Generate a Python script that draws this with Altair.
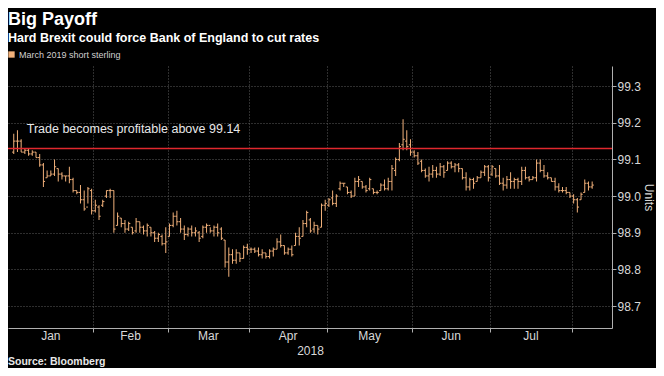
import altair as alt
import numpy as np
import pandas as pd

# ---------------- texts ----------------
title = "Big Payoff"
subtitle = "Hard Brexit could force Bank of England to cut rates"
series_name = "March 2019 short sterling"
source = "Source: Bloomberg"
y_title = "Units"
year_label = "2018"
note = "Trade becomes profitable above 99.14"

# ---------------- categories / ticks ----------------
months = ["Jan", "Feb", "Mar", "Apr", "May", "Jun", "Jul"]
month_starts = ["2018-01-01", "2018-02-01", "2018-03-01", "2018-04-01",
                "2018-05-01", "2018-06-01", "2018-07-01", "2018-08-01"]
y_ticks = [98.7, 98.8, 98.9, 99.0, 99.1, 99.2, 99.3]

# reference level and its note (x = trading-day index, y = price)
threshold = [99.13]
note_day = [4.5]
note_level = [99.183]

# ---------------- daily OHLC, 2 Jan - 8 Aug 2018 ----------------
first_day = "2018-01-02"
last_day = "2018-08-08"

open_ = [
    99.12, 99.15, 99.15, 99.12, 99.125, 99.115, 99.12, 99.105, 99.085, 99.05, 99.055,
    99.06, 99.075, 99.06, 99.055, 99.055, 99.045, 99.015, 99.01, 98.99, 98.97, 99.015,
    98.96, 98.97, 98.975, 99.0, 99.015, 99.015, 98.92, 98.94, 98.925, 98.91,
    98.915, 98.905, 98.93, 98.915, 98.905, 98.915, 98.9, 98.885, 98.89, 98.87,
    98.89, 98.92, 98.945, 98.93, 98.91, 98.895, 98.91, 98.9, 98.9, 98.89, 98.915,
    98.92, 98.905, 98.915, 98.91, 98.88, 98.82, 98.84, 98.825, 98.845, 98.83, 98.86,
    98.855, 98.855, 98.85, 98.84, 98.845, 98.835, 98.85, 98.855, 98.875, 98.865, 98.845,
    98.855, 98.865, 98.89, 98.89, 98.925, 98.935, 98.91, 98.92, 98.915, 98.975,
    98.975, 98.995, 98.98, 99.02, 99.035, 99.025, 99.01, 99.0, 99.04, 99.04, 99.025, 99.02,
    99.02, 99.01, 99.015, 99.03, 99.02, 99.04, 99.07, 99.1, 99.14, 99.15, 99.14,
    99.12, 99.11, 99.095, 99.07, 99.055, 99.06, 99.07, 99.06, 99.08, 99.07, 99.09,
    99.08, 99.085, 99.075, 99.05, 99.025, 99.045, 99.04, 99.05, 99.065, 99.08,
    99.06, 99.075, 99.055, 99.035, 99.03, 99.045, 99.04, 99.045, 99.04, 99.07, 99.05,
    99.045, 99.05, 99.09, 99.07, 99.055, 99.05, 99.04, 99.025, 99.015, 99.015, 99.01,
    99.0, 98.99, 98.99, 99.01, 99.035, 99.025,
]
high = [
    99.17, 99.18, 99.155, 99.13, 99.13, 99.125, 99.12, 99.115, 99.09, 99.07, 99.07,
    99.1, 99.075, 99.065, 99.055, 99.08, 99.05, 99.015, 99.03, 99.015, 99.025, 99.02,
    98.99, 98.975, 98.99, 99.015, 99.02, 99.015, 98.955, 98.94, 98.935, 98.93,
    98.915, 98.94, 98.93, 98.92, 98.925, 98.915, 98.905, 98.9, 98.895, 98.915,
    98.925, 98.955, 98.96, 98.94, 98.92, 98.915, 98.92, 98.915, 98.905, 98.92, 98.925,
    98.915, 98.92, 98.925, 98.915, 98.88, 98.86, 98.855, 98.855, 98.845, 98.865, 98.87,
    98.86, 98.86, 98.86, 98.855, 98.845, 98.855, 98.86, 98.885, 98.895, 98.865, 98.86,
    98.865, 98.9, 98.915, 98.935, 98.96, 98.94, 98.93, 98.92, 98.98, 98.99,
    98.995, 99.015, 99.005, 99.04, 99.035, 99.025, 99.015, 99.05, 99.055, 99.04, 99.03, 99.05,
    99.02, 99.015, 99.035, 99.045, 99.05, 99.085, 99.105, 99.145, 99.21, 99.18, 99.155,
    99.125, 99.12, 99.1, 99.075, 99.08, 99.085, 99.08, 99.09, 99.085, 99.095, 99.095,
    99.09, 99.09, 99.075, 99.065, 99.05, 99.05, 99.055, 99.07, 99.085, 99.085,
    99.085, 99.075, 99.085, 99.05, 99.055, 99.065, 99.05, 99.05, 99.08, 99.08, 99.055,
    99.055, 99.1, 99.1, 99.085, 99.065, 99.05, 99.05, 99.035, 99.025, 99.025, 99.01,
    99.005, 98.995, 99.01, 99.045, 99.04, 99.04,
]
low = [
    99.115, 99.12, 99.12, 99.115, 99.11, 99.11, 99.105, 99.08, 99.025, 99.05, 99.055,
    99.055, 99.04, 99.045, 99.04, 99.035, 99.01, 99.005, 98.98, 98.96, 98.98, 98.95,
    98.955, 98.935, 98.97, 98.995, 98.995, 98.9, 98.92, 98.915, 98.9, 98.905,
    98.895, 98.9, 98.9, 98.895, 98.89, 98.89, 98.875, 98.875, 98.865, 98.845,
    98.89, 98.915, 98.92, 98.9, 98.88, 98.89, 98.89, 98.89, 98.875, 98.885, 98.9,
    98.9, 98.89, 98.89, 98.88, 98.805, 98.78, 98.815, 98.815, 98.82, 98.83, 98.84,
    98.845, 98.845, 98.835, 98.83, 98.83, 98.83, 98.835, 98.855, 98.86, 98.84, 98.84,
    98.835, 98.865, 98.865, 98.89, 98.915, 98.9, 98.9, 98.895, 98.915, 98.96,
    98.97, 98.975, 98.97, 99.015, 99.025, 99.005, 98.995, 99.0, 99.025, 99.02, 99.01, 99.015,
    99.005, 99.005, 99.015, 99.015, 99.015, 99.015, 99.055, 99.095, 99.125, 99.125, 99.11,
    99.105, 99.085, 99.065, 99.05, 99.04, 99.05, 99.05, 99.055, 99.05, 99.07, 99.075,
    99.065, 99.065, 99.045, 99.015, 99.015, 99.02, 99.04, 99.05, 99.055, 99.04,
    99.055, 99.05, 99.03, 99.015, 99.02, 99.02, 99.02, 99.02, 99.03, 99.045, 99.04,
    99.045, 99.04, 99.065, 99.05, 99.045, 99.04, 99.015, 99.01, 99.01, 99.005, 98.995,
    98.98, 98.955, 98.99, 99.01, 99.015, 99.02,
]
close = [
    99.15, 99.15, 99.12, 99.125, 99.115, 99.12, 99.105, 99.085, 99.04, 99.055, 99.06,
    99.08, 99.06, 99.055, 99.055, 99.045, 99.015, 99.01, 98.99, 98.965, 99.02, 98.96,
    98.975, 98.945, 98.985, 99.015, 99.015, 98.91, 98.945, 98.925, 98.91, 98.925,
    98.9, 98.93, 98.915, 98.905, 98.92, 98.9, 98.885, 98.895, 98.87, 98.875,
    98.92, 98.945, 98.93, 98.91, 98.895, 98.91, 98.9, 98.905, 98.885, 98.915, 98.92,
    98.905, 98.915, 98.9, 98.885, 98.82, 98.84, 98.825, 98.845, 98.83, 98.86, 98.855,
    98.855, 98.85, 98.84, 98.845, 98.835, 98.85, 98.855, 98.875, 98.865, 98.845, 98.855,
    98.84, 98.89, 98.885, 98.925, 98.955, 98.905, 98.92, 98.91, 98.975, 98.98,
    98.99, 98.98, 99.0, 99.035, 99.035, 99.01, 99.0, 99.04, 99.045, 99.025, 99.015, 99.045,
    99.01, 99.01, 99.03, 99.02, 99.04, 99.075, 99.1, 99.135, 99.155, 99.135, 99.12,
    99.11, 99.09, 99.07, 99.055, 99.06, 99.07, 99.06, 99.08, 99.065, 99.09, 99.08,
    99.085, 99.075, 99.05, 99.025, 99.045, 99.035, 99.05, 99.065, 99.08, 99.05,
    99.08, 99.055, 99.035, 99.03, 99.045, 99.04, 99.045, 99.04, 99.07, 99.05, 99.045,
    99.05, 99.09, 99.07, 99.055, 99.05, 99.04, 99.025, 99.015, 99.015, 99.01, 99.0,
    98.99, 98.97, 99.005, 99.035, 99.025, 99.03,
]

# ---------------- build tables ----------------
dates = pd.bdate_range(first_day, last_day)
assert len(dates) == len(open_) == len(high) == len(low) == len(close)
day = np.busday_count("2018-01-01", dates.values.astype("datetime64[D]"))

df = pd.DataFrame({
    "day": day, "date": dates.strftime("%Y-%m-%d"),
    "open": open_, "high": high, "low": low, "close": close,
    "series": series_name,
})

bounds = [float(np.busday_count("2018-01-01", m)) - 0.5 for m in month_starts]
month_df = pd.DataFrame({
    "month": months,
    "mid": [(bounds[i] + bounds[i + 1]) / 2 for i in range(len(months))],
})
level_df = pd.DataFrame({"level": threshold})
note_df = pd.DataFrame({"text": [note], "day": note_day, "level": note_level})
source_df = pd.DataFrame({"text": [source]})

# ---------------- styling ----------------
FONT = "Liberation Sans"
BAR = "#f0b07a"
GRID = "#5c5c5c"
AXIS = "#b0b0b0"
W, H = 604, 262

x_scale = alt.Scale(domain=[0.8, 161.0], nice=False, zero=False)
y_scale = alt.Scale(domain=[98.64, 99.355], nice=False, zero=False)

x_axis = alt.Axis(
    values=bounds[1:], labels=False, ticks=True, tickSize=4, tickColor=AXIS,
    domainColor=AXIS, grid=True, gridColor=GRID, gridDash=[1, 2],
    title=year_label, titleColor="#d8d8d8", titleFont=FONT, titleFontSize=12,
    titleFontWeight="normal", titlePadding=13,
)
y_axis = alt.Axis(
    orient="right", values=y_ticks, format=".1f", grid=True, gridColor=GRID,
    gridDash=[1, 2], domainColor=AXIS, tickColor=AXIS, tickSize=4,
    labelColor="#d8d8d8", labelFont=FONT, labelFontSize=12, labelPadding=1,
    title=y_title, titleColor="#d8d8d8", titleFont=FONT, titleFontSize=12,
    titleFontWeight="normal", titlePadding=1,
)

base = alt.Chart(df)

hl = base.mark_bar(size=1).encode(
    x=alt.X("day:Q", scale=x_scale, axis=x_axis),
    y=alt.Y("low:Q", scale=y_scale, axis=y_axis),
    y2="high:Q",
    color=alt.Color(
        "series:N", scale=alt.Scale(range=[BAR]),
        legend=alt.Legend(
            orient="none", legendX=-1, legendY=-16, title=None,
            symbolType="square", symbolSize=40, symbolStrokeWidth=0,
            symbolFillColor="#f4a356",
            labelFont=FONT, labelFontSize=9, labelColor="#d0d0d0",
            labelOffset=3, padding=0,
        ),
    ),
)

opens = base.transform_calculate(x0="datum.day - 0.45").mark_rule(
    color=BAR, strokeWidth=1
).encode(x="x0:Q", x2="day:Q", y="open:Q")

closes = base.transform_calculate(x1="datum.day + 0.45").mark_rule(
    color=BAR, strokeWidth=1
).encode(x="day:Q", x2="x1:Q", y="close:Q")

red = alt.Chart(level_df).mark_rule(color="#e0282e", strokeWidth=1.5).encode(
    y="level:Q"
)

note_txt = alt.Chart(note_df).mark_text(
    align="left", baseline="middle", font=FONT, fontSize=12.5, color="#e8e8e8"
).encode(x="day:Q", y="level:Q", text="text:N")

month_txt = alt.Chart(month_df).mark_text(
    align="center", baseline="middle", font=FONT, fontSize=12, color="#d8d8d8"
).encode(x="mid:Q", y=alt.value(H + 8), text="month:N")

source_txt = alt.Chart(source_df).mark_text(
    align="left", baseline="alphabetic", font=FONT, fontSize=10.5,
    fontWeight="bold", color="#e8e8e8"
).encode(x=alt.value(0), y=alt.value(H + 37), text="text:N")

chart = alt.layer(hl, opens, closes, red, note_txt, month_txt, source_txt).properties(
    width=W, height=H,
    autosize=alt.AutoSizeParams(type="none"),
    padding={"left": 0, "top": 58, "right": 44, "bottom": 40},
    background="#000000",
    title=alt.TitleParams(
        text=title, subtitle=subtitle, anchor="start", frame="group",
        font=FONT, fontSize=18, fontWeight="bold", color="#ffffff",
        subtitleFont=FONT, subtitleFontSize=12.5, subtitleFontWeight="bold",
        subtitleColor="#ffffff", subtitlePadding=3, offset=6,
    ),
).configure_view(stroke=None)

chart.save("out.html", embed_options={"renderer": "svg", "actions": False})
